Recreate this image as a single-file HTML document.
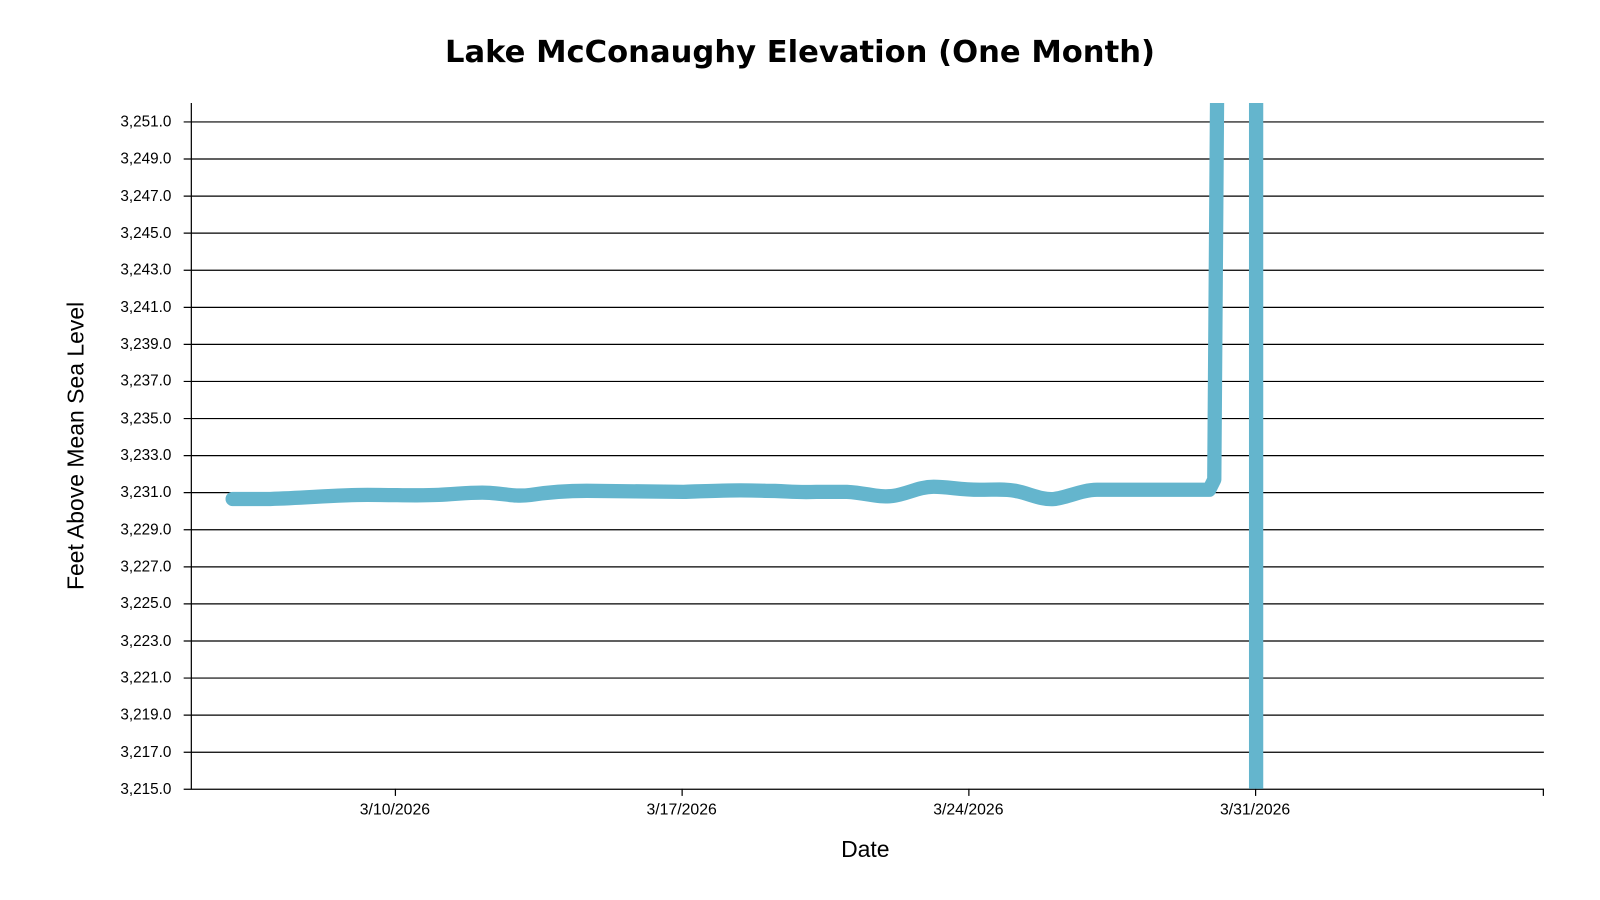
<!DOCTYPE html>
<html><head><style>
html,body{margin:0;padding:0;background:#fff;}
svg{display:block;font-family:"Liberation Sans",Arial,sans-serif;}
</style></head><body>
<svg width="1600" height="900" viewBox="0 0 1600 900">
<g transform="scale(1.0204)">
<text x="784" y="61" text-anchor="middle" font-size="30" font-weight="bold" fill="#000" font-family="DejaVu Sans, Liberation Sans, sans-serif">Lake McConaughy Elevation (One Month)</text>
<g stroke="#000" stroke-width="1.2">
<line x1="180" y1="119.5" x2="1513" y2="119.5"/>
<line x1="180" y1="155.8" x2="1513" y2="155.8"/>
<line x1="180" y1="192.2" x2="1513" y2="192.2"/>
<line x1="180" y1="228.5" x2="1513" y2="228.5"/>
<line x1="180" y1="264.8" x2="1513" y2="264.8"/>
<line x1="180" y1="301.2" x2="1513" y2="301.2"/>
<line x1="180" y1="337.5" x2="1513" y2="337.5"/>
<line x1="180" y1="373.8" x2="1513" y2="373.8"/>
<line x1="180" y1="410.2" x2="1513" y2="410.2"/>
<line x1="180" y1="446.5" x2="1513" y2="446.5"/>
<line x1="180" y1="482.8" x2="1513" y2="482.8"/>
<line x1="180" y1="519.2" x2="1513" y2="519.2"/>
<line x1="180" y1="555.5" x2="1513" y2="555.5"/>
<line x1="180" y1="591.8" x2="1513" y2="591.8"/>
<line x1="180" y1="628.2" x2="1513" y2="628.2"/>
<line x1="180" y1="664.5" x2="1513" y2="664.5"/>
<line x1="180" y1="700.8" x2="1513" y2="700.8"/>
<line x1="180" y1="737.2" x2="1513" y2="737.2"/>
<line x1="180" y1="773.5" x2="1513" y2="773.5"/>
<line x1="187.5" y1="101" x2="187.5" y2="773.5"/>
<line x1="387.5" y1="773" x2="387.5" y2="780"/>
<line x1="668.5" y1="773" x2="668.5" y2="780"/>
<line x1="949.5" y1="773" x2="949.5" y2="780"/>
<line x1="1230.5" y1="773" x2="1230.5" y2="780"/>
<line x1="1512.5" y1="773" x2="1512.5" y2="780"/>
</g>
<g font-size="15" fill="#000" text-anchor="end">
<text x="168" y="124">3,251.0</text>
<text x="168" y="160">3,249.0</text>
<text x="168" y="197">3,247.0</text>
<text x="168" y="233">3,245.0</text>
<text x="168" y="269">3,243.0</text>
<text x="168" y="306">3,241.0</text>
<text x="168" y="342">3,239.0</text>
<text x="168" y="378">3,237.0</text>
<text x="168" y="415">3,235.0</text>
<text x="168" y="451">3,233.0</text>
<text x="168" y="487">3,231.0</text>
<text x="168" y="524">3,229.0</text>
<text x="168" y="560">3,227.0</text>
<text x="168" y="596">3,225.0</text>
<text x="168" y="633">3,223.0</text>
<text x="168" y="669">3,221.0</text>
<text x="168" y="705">3,219.0</text>
<text x="168" y="742">3,217.0</text>
<text x="168" y="778">3,215.0</text>
</g>
<g font-size="15.5" fill="#000" text-anchor="middle">
<text x="387" y="798">3/10/2026</text>
<text x="668" y="798">3/17/2026</text>
<text x="949" y="798">3/24/2026</text>
<text x="1230" y="798">3/31/2026</text>
</g>
<text x="848" y="840" font-size="22.5" text-anchor="middle">Date</text>
<text transform="translate(82,437) rotate(-90)" font-size="22.5" text-anchor="middle">Feet Above Mean Sea Level</text>
<clipPath id="c"><rect x="188" y="101" width="1325" height="672"/></clipPath>
<g clip-path="url(#c)" fill="none" stroke="#64b5cd" stroke-width="14" stroke-linecap="round" stroke-linejoin="round">
<path d="M228,489 L265,489 C300,488 330,485 360,485 C390,485 410,486 430,485 C450,484 465,482 480,483 C495,484 505,487 520,485 C540,482 555,481 575,481 L670,482 C700,481 720,480 750,481 C770,481 780,483 800,482 L830,482 C850,483 860,488 875,486 C890,484 900,477 915,477 C930,477 940,480 960,480 C975,480 985,479 995,481 C1010,484 1020,490 1033,489 C1045,488 1060,480 1075,480 L1160,480 L1185,480 L1190,470 L1193,60"/>
<path d="M1231,60 L1231,800"/>
</g>
</g>
</svg>
</body></html>
